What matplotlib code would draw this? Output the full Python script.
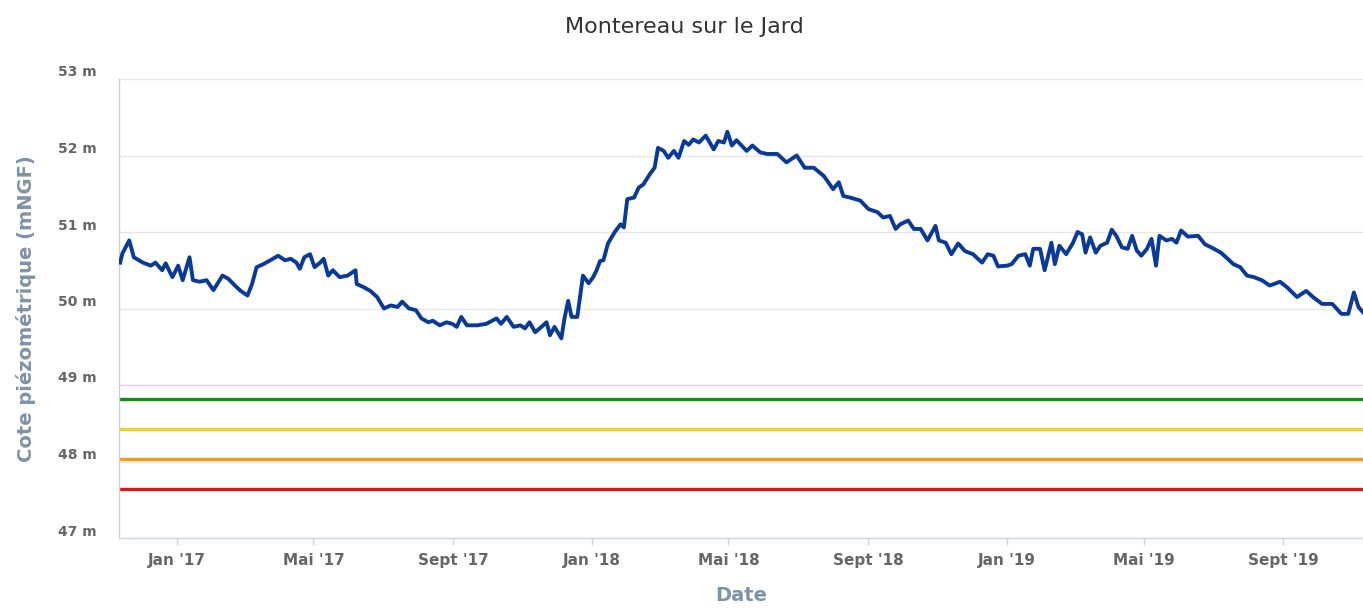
import pandas as pd
import matplotlib.pyplot as plt
import matplotlib.dates as mdates
from matplotlib.transforms import ScaledTranslation

# Piezometric level readings (mNGF)
dates = [
    '2016-11-12', '2016-11-14', '2016-11-20', '2016-11-24', '2016-12-02', '2016-12-09',
    '2016-12-13', '2016-12-19', '2016-12-22', '2016-12-28', '2017-01-02', '2017-01-06',
    '2017-01-12', '2017-01-15', '2017-01-21', '2017-01-27', '2017-02-02', '2017-02-10',
    '2017-02-15', '2017-02-21', '2017-02-26', '2017-03-04', '2017-03-08', '2017-03-12',
    '2017-03-18', '2017-03-24', '2017-03-31', '2017-04-06', '2017-04-11', '2017-04-16',
    '2017-04-19', '2017-04-23', '2017-04-28', '2017-05-02', '2017-05-07', '2017-05-10',
    '2017-05-14', '2017-05-18', '2017-05-24', '2017-05-31', '2017-06-07', '2017-06-08',
    '2017-06-14', '2017-06-20', '2017-06-26', '2017-07-02', '2017-07-08', '2017-07-14',
    '2017-07-18', '2017-07-24', '2017-07-30', '2017-08-04', '2017-08-10', '2017-08-14',
    '2017-08-20', '2017-08-26', '2017-08-31', '2017-09-04', '2017-09-08', '2017-09-13',
    '2017-09-22', '2017-09-30', '2017-10-09', '2017-10-13', '2017-10-18', '2017-10-24',
    '2017-10-30', '2017-11-03', '2017-11-07', '2017-11-12', '2017-11-16', '2017-11-22',
    '2017-11-25', '2017-11-29', '2017-12-05', '2017-12-08', '2017-12-11', '2017-12-14',
    '2017-12-19', '2017-12-24', '2017-12-29', '2018-01-02', '2018-01-05', '2018-01-08',
    '2018-01-11', '2018-01-15', '2018-01-21', '2018-01-26', '2018-01-29', '2018-02-01',
    '2018-02-07', '2018-02-11', '2018-02-15', '2018-02-21', '2018-02-25', '2018-02-28',
    '2018-03-05', '2018-03-09', '2018-03-14', '2018-03-18', '2018-03-23', '2018-03-27',
    '2018-03-31', '2018-04-05', '2018-04-11', '2018-04-18', '2018-04-22', '2018-04-27',
    '2018-04-30', '2018-05-04', '2018-05-08', '2018-05-17', '2018-05-22', '2018-05-29',
    '2018-06-04', '2018-06-13', '2018-06-21', '2018-06-30', '2018-07-07', '2018-07-15',
    '2018-07-24', '2018-08-01', '2018-08-06', '2018-08-10', '2018-08-16', '2018-08-25',
    '2018-09-01', '2018-09-09', '2018-09-14', '2018-09-20', '2018-09-25', '2018-09-29',
    '2018-10-06', '2018-10-11', '2018-10-17', '2018-10-23', '2018-10-30', '2018-11-02',
    '2018-11-08', '2018-11-13', '2018-11-19', '2018-11-25', '2018-12-02', '2018-12-10',
    '2018-12-15', '2018-12-20', '2018-12-24', '2019-01-01', '2019-01-05', '2019-01-11',
    '2019-01-17', '2019-01-21', '2019-01-24', '2019-01-30', '2019-02-03', '2019-02-09',
    '2019-02-12', '2019-02-16', '2019-02-22', '2019-02-28', '2019-03-04', '2019-03-08',
    '2019-03-11', '2019-03-15', '2019-03-20', '2019-03-24', '2019-03-30', '2019-04-03',
    '2019-04-07', '2019-04-12', '2019-04-17', '2019-04-21', '2019-04-25', '2019-04-29',
    '2019-05-04', '2019-05-08', '2019-05-12', '2019-05-15', '2019-05-21', '2019-05-26',
    '2019-05-30', '2019-06-03', '2019-06-09', '2019-06-18', '2019-06-24', '2019-07-02',
    '2019-07-08', '2019-07-14', '2019-07-19', '2019-07-25', '2019-07-31', '2019-08-06',
    '2019-08-13', '2019-08-20', '2019-08-29', '2019-09-04', '2019-09-13', '2019-09-21',
    '2019-09-27', '2019-10-05', '2019-10-14', '2019-10-22', '2019-10-28', '2019-11-02',
    '2019-11-06', '2019-11-10',
]
levels = [
    50.60, 50.72, 50.89, 50.67, 50.60, 50.56,
    50.60, 50.50, 50.59, 50.41, 50.56, 50.37,
    50.67, 50.37, 50.35, 50.37, 50.24, 50.43,
    50.39, 50.30, 50.23, 50.17, 50.32, 50.54,
    50.58, 50.63, 50.69, 50.63, 50.65, 50.60,
    50.52, 50.67, 50.71, 50.54, 50.60, 50.65,
    50.43, 50.50, 50.41, 50.43, 50.50, 50.32,
    50.28, 50.23, 50.15, 50.00, 50.04, 50.02,
    50.09, 50.00, 49.98, 49.87, 49.82, 49.84,
    49.78, 49.82, 49.80, 49.76, 49.89, 49.78,
    49.78, 49.80, 49.87, 49.80, 49.89, 49.76,
    49.78, 49.74, 49.82, 49.69, 49.74, 49.82,
    49.65, 49.76, 49.61, 49.89, 50.10, 49.89,
    49.89, 50.43, 50.33, 50.41, 50.50, 50.62,
    50.63, 50.85, 51.00, 51.10, 51.06, 51.43,
    51.45, 51.58, 51.62, 51.76, 51.84, 52.10,
    52.06, 51.97, 52.06, 51.97, 52.19, 52.14,
    52.21, 52.17, 52.26, 52.08, 52.19, 52.17,
    52.31, 52.13, 52.20, 52.06, 52.13, 52.04,
    52.02, 52.02, 51.91, 52.00, 51.84, 51.84,
    51.73, 51.56, 51.65, 51.47, 51.45, 51.41,
    51.30, 51.26, 51.19, 51.21, 51.04, 51.10,
    51.15, 51.04, 51.04, 50.89, 51.08, 50.89,
    50.86, 50.71, 50.85, 50.75, 50.71, 50.60,
    50.71, 50.69, 50.55, 50.56, 50.58, 50.69,
    50.71, 50.56, 50.78, 50.78, 50.50, 50.86,
    50.58, 50.82, 50.71, 50.86, 51.00, 50.97,
    50.73, 50.93, 50.73, 50.82, 50.86, 51.03,
    50.95, 50.80, 50.78, 50.95, 50.76, 50.69,
    50.78, 50.91, 50.56, 50.95, 50.89, 50.91,
    50.86, 51.02, 50.94, 50.95, 50.84, 50.78,
    50.73, 50.65, 50.58, 50.54, 50.43, 50.41,
    50.37, 50.30, 50.35, 50.28, 50.15, 50.23,
    50.15, 50.06, 50.06, 49.93, 49.93, 50.21,
    50.02, 49.95,
]

# alert thresholds
threshold_levels = [48.82, 48.42, 48.03, 47.64]
threshold_colors = ['#178a17', '#f4cf2e', '#f49b1e', '#d21a1a']

tick_dates = ['2017-01-01', '2017-05-01', '2017-09-01', '2018-01-01', '2018-05-01',
              '2018-09-01', '2019-01-01', '2019-05-01', '2019-09-01']
tick_labels = ["Jan '17", "Mai '17", "Sept '17", "Jan '18", "Mai '18",
               "Sept '18", "Jan '19", "Mai '19", "Sept '19"]
y_ticks = [47, 48, 49, 50, 51, 52, 53]
y_labels = [f"{v} m" for v in y_ticks]

x_start, x_end = '2016-11-11', '2019-11-10'

label_color = '#7d93a7'
tick_color = '#666666'

fig = plt.figure(figsize=(13.63, 6.09), dpi=100)
ax = fig.add_axes([119 / 1363, 1 - 538 / 609, 1 - 119 / 1363, (538 - 79) / 609])

x = pd.to_datetime(dates)

# gridlines (49 m one is pinkish in the original)
for v in y_ticks[1:]:
    col = '#f2c6f2' if v == 49 else '#e6e6e6'
    ax.axhline(v, color=col, lw=1, zorder=1)

for lvl, col in zip(threshold_levels, threshold_colors):
    ax.axhline(lvl, color=col, lw=2.4, zorder=2)

ax.plot(x, levels, color='#0a3a98', lw=2.8, zorder=3, solid_joinstyle='round')

ax.set_xlim(pd.Timestamp(x_start), pd.Timestamp(x_end))
ax.set_ylim(47, 53)

ax.set_yticks(y_ticks)
ax.set_yticklabels(y_labels)
ax.set_xticks(pd.to_datetime(tick_dates))
ax.set_xticklabels(tick_labels)

for s in ['top', 'right']:
    ax.spines[s].set_visible(False)
ax.spines['left'].set_color('#d0d0d0')
ax.spines['bottom'].set_color('#ccd6eb')
ax.spines['left'].set_linewidth(1)
ax.spines['bottom'].set_linewidth(1)

ax.tick_params(axis='y', length=0, pad=16, labelsize=10, labelcolor=tick_color)
ax.tick_params(axis='x', length=5, width=1, color='#ccd6eb', pad=6,
               labelsize=11, labelcolor=tick_color)
for lab in ax.get_xticklabels() + ax.get_yticklabels():
    lab.set_fontweight('bold')

# y labels sit a bit above their gridline
offset = ScaledTranslation(0, 8 / 100, fig.dpi_scale_trans)
for lab in ax.get_yticklabels():
    lab.set_transform(lab.get_transform() + offset)

ax.set_ylabel("Cote piézométrique (mNGF)", fontsize=14, fontweight='bold', color=label_color)
ax.yaxis.set_label_coords(-0.0667, 0.5)
ax.set_xlabel("Date", fontsize=14, fontweight='bold', color=label_color)
ax.xaxis.set_label_coords(0.5, -0.105)

fig.text(684 / 1363, 1 - 27 / 609, "Montereau sur le Jard", ha='center', va='center',
         fontsize=16, color='#333333')

fig.savefig('out.png', dpi=100)
